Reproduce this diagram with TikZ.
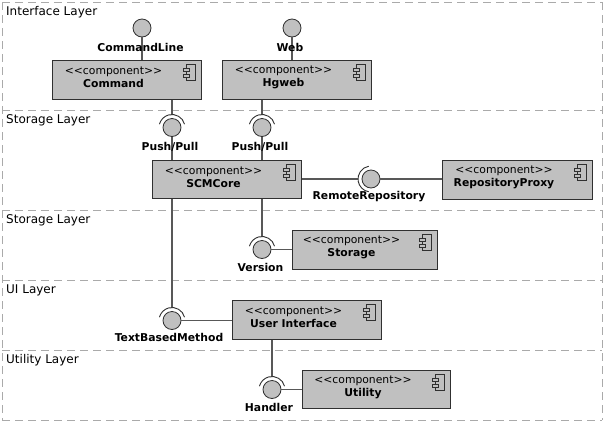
\documentclass[tikz,border=0pt]{standalone}
\usepackage{fontspec}
\setmainfont{DejaVu Sans}
\definecolor{compfill}{RGB}{192,192,192}
\definecolor{compline}{RGB}{48,48,48}
\definecolor{conn}{RGB}{88,88,88}
\definecolor{layerline}{RGB}{170,170,170}
\newcommand\stereo{<\kern0pt<component>\kern0pt>}
\tikzset{
  layerbox/.style={draw=layerline, line width=1pt, dash pattern=on 8pt off 5pt},
  layerlabel/.style={anchor=base west, inner sep=0pt, font=\fontsize{12}{14}\selectfont},
  comp/.style={draw=compline, fill=compfill, line width=1pt, rectangle, inner sep=0pt},
  comptext/.style={align=center, inner sep=0pt, font=\fontsize{10.8}{13}\selectfont},
  iface/.style={circle, draw=compline, fill=compfill, line width=0.8pt, minimum size=18pt, inner sep=0pt},
  conline/.style={draw=conn, line width=1.15pt},
  socket/.style={draw=compline, line width=0.9pt},
  ilabel/.style={inner sep=0pt, font=\bfseries\fontsize{10.8}{13}\selectfont}
}
\newcommand\compicon[1]{%
  \draw[compline, line width=0.8pt, fill=compfill] ([xshift=-15pt,yshift=-5pt]#1.north east) rectangle ([xshift=-6pt,yshift=-21pt]#1.north east);
  \draw[compline, line width=0.8pt, fill=compfill] ([xshift=-18pt,yshift=-8.5pt]#1.north east) rectangle ([xshift=-12pt,yshift=-12pt]#1.north east);
  \draw[compline, line width=0.8pt, fill=compfill] ([xshift=-18pt,yshift=-14.5pt]#1.north east) rectangle ([xshift=-12pt,yshift=-18pt]#1.north east);
}
\begin{document}
\begin{tikzpicture}[x=1pt,y=1pt]
\useasboundingbox (0,0) rectangle (606,-424);
% layers
\draw[layerbox] (2,-2) -- (602,-2);
\draw[layerbox] (2,-110) -- (602,-110);
\draw[layerbox] (2,-210) -- (602,-210);
\draw[layerbox] (2,-280) -- (602,-280);
\draw[layerbox] (2,-350) -- (602,-350);
\draw[layerbox] (2,-420) -- (602,-420);
\draw[layerbox] (2,-2) -- (2,-420);
\draw[layerbox] (602,-2) -- (602,-420);
\node[layerlabel] (l1) at (6,-15) {Interface Layer};
\node[layerlabel] (l2) at (6,-123) {Storage Layer};
\node[layerlabel] (l3) at (6,-223) {Storage Layer};
\node[layerlabel] (l4) at (6,-293) {UI Layer};
\node[layerlabel] (l5) at (6,-363) {Utility Layer};
% components
\node[comp, minimum width=149pt, minimum height=39pt] (cmd) at (126.5,-79.5) {};
\node[comp, minimum width=149pt, minimum height=39pt] (hg) at (296.5,-79.5) {};
\node[comp, minimum width=149pt, minimum height=38pt] (scm) at (226.5,-179) {};
\node[comp, minimum width=150pt, minimum height=39pt] (proxy) at (517,-179.5) {};
\node[comp, minimum width=145pt, minimum height=39pt] (stor) at (364.5,-249.5) {};
\node[comp, minimum width=149pt, minimum height=39pt] (ui) at (306.5,-319.5) {};
\node[comp, minimum width=148pt, minimum height=38pt] (util) at (376,-389) {};
\foreach \c in {cmd,hg,scm,proxy,stor,ui,util} {\compicon{\c}}
\node[comptext] (cmdt) at ([xshift=-13pt,yshift=2pt]cmd.center) {\stereo\\\textbf{Command}};
\node[comptext] (hgt) at ([xshift=-13pt,yshift=2pt]hg.center) {\stereo\\\textbf{Hgweb}};
\node[comptext] (scmt) at ([xshift=-13pt,yshift=2pt]scm.center) {\stereo\\\textbf{SCMCore}};
\node[comptext] (proxyt) at ([xshift=-13pt,yshift=2pt]proxy.center) {\stereo\\\textbf{RepositoryProxy}};
\node[comptext] (stort) at ([xshift=-13pt,yshift=2pt]stor.center) {\stereo\\\textbf{Storage}};
\node[comptext] (uit) at ([xshift=-13pt,yshift=2pt]ui.center) {\stereo\\\textbf{User Interface}};
\node[comptext] (utilt) at ([xshift=-13pt,yshift=2pt]util.center) {\stereo\\\textbf{Utility}};
% interfaces
\node[iface] (cl) at (142,-28) {};
\node[iface] (web) at (292,-28) {};
\node[iface] (pp1) at (172,-127.5) {};
\node[iface] (pp2) at (262,-127.5) {};
\node[iface] (rr) at (371,-179) {};
\node[iface] (ver) at (262,-249.5) {};
\node[iface] (tbm) at (172,-320.5) {};
\node[iface] (hnd) at (272,-389.5) {};
% connectors
\draw[conline] (cl.south) -- (cl |- cmd.north);
\draw[conline] (web.south) -- (web |- hg.north);
\draw[conline] (pp1 |- cmd.south) -- ([yshift=13pt]pp1.center);
\draw[conline] (pp1.south) -- (pp1 |- scm.north);
\draw[conline] (pp2 |- hg.south) -- ([yshift=13pt]pp2.center);
\draw[conline] (pp2.south) -- (pp2 |- scm.north);
\draw[conline] (scm.east |- rr) -- ([xshift=-13pt]rr.center);
\draw[conline] (rr.east) -- (rr -| proxy.west);
\draw[conline] (ver |- scm.south) -- ([yshift=13pt]ver.center);
\draw[conline] (ver.east) -- (ver -| stor.west);
\draw[conline] (tbm |- scm.south) -- ([yshift=13pt]tbm.center);
\draw[conline] (tbm.east) -- (tbm -| ui.west);
\draw[conline] (hnd |- ui.south) -- ([yshift=13pt]hnd.center);
\draw[conline] (hnd.east) -- (hnd -| util.west);
% sockets
\foreach \s in {pp1,pp2,ver,tbm,hnd} {
  \draw[socket] ([shift={(15:13pt)}]\s.center) arc (15:165:13pt);
}
\draw[socket] ([shift={(100:13pt)}]rr.center) arc (100:260:13pt);
% interface labels
\node[ilabel] (cll) at (140.5,-47.5) {CommandLine};
\node[ilabel] (webl) at (290,-47.5) {Web};
\node[ilabel] (pp1l) at (170,-147) {Push/Pull};
\node[ilabel] (pp2l) at (260,-147) {Push/Pull};
\node[ilabel] (rrl) at (369,-197) {RemoteRepository};
\node[ilabel] (verl) at (260.5,-267) {Version};
\node[ilabel] (tbml) at (169,-337) {TextBasedMethod};
\node[ilabel] (hndl) at (269,-407) {Handler};
\end{tikzpicture}
\end{document}
